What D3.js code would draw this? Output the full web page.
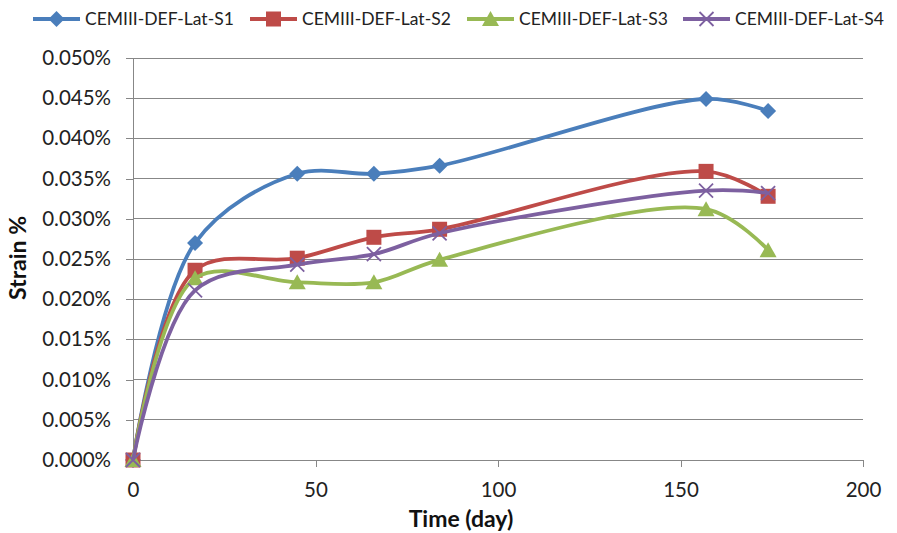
<!DOCTYPE html>
<html><head><meta charset="utf-8">
<script src="https://cdn.jsdelivr.net/npm/d3@7/dist/d3.min.js"></script>
<style>body{margin:0;background:#fff}svg{display:block}</style>
</head><body><svg id="c" width="897" height="533"></svg>
<script>
const days = [0, 17, 45, 66, 84, 157, 174];
const seriesNames = ["CEMIII-DEF-Lat-S1","CEMIII-DEF-Lat-S2","CEMIII-DEF-Lat-S3","CEMIII-DEF-Lat-S4"];
const s1 = [0, 0.0270, 0.0356, 0.0356, 0.0366, 0.0449, 0.0434];
const s2 = [0, 0.0236, 0.0251, 0.0277, 0.0287, 0.0359, 0.0328];
const s3 = [0, 0.0226, 0.0221, 0.0221, 0.0249, 0.0312, 0.0261];
const s4 = [0, 0.0211, 0.0243, 0.0256, 0.0282, 0.0335, 0.0332];
const colors = ["#4A7EBB","#BE4B48","#98B954","#7D60A0"];
const markers = ["diamond","square","triangle","x"];
const xTicks = [0,50,100,150,200];
const yTicks = [0,0.005,0.010,0.015,0.020,0.025,0.030,0.035,0.040,0.045,0.050];

const font = "Lato, 'Open Sans', sans-serif";
const svg = d3.select("#c");
const L=133,R=863,T=58,B=460;
const x = d3.scaleLinear().domain([0,200]).range([L,R]);
const y = d3.scaleLinear().domain([0,0.05]).range([B,T]);

// gridlines
svg.append("g").selectAll("line").data(yTicks.slice(1)).join("line")
  .attr("x1",L).attr("x2",R).attr("y1",d=>y(d)).attr("y2",d=>y(d))
  .attr("stroke","#878787").attr("stroke-width",1).attr("shape-rendering","crispEdges");

// axes
const ya = svg.append("g").attr("transform",`translate(${L},0)`)
  .call(d3.axisLeft(y).tickValues(yTicks).tickFormat(d=>d.toFixed(3)+"%").tickSize(7).tickPadding(15));
const xa = svg.append("g").attr("transform",`translate(0,${B})`)
  .call(d3.axisBottom(x).tickValues(xTicks).tickSize(7).tickPadding(15));
[ya,xa].forEach(a=>{
  a.selectAll("path,line").attr("stroke","#878787").attr("shape-rendering","crispEdges");
  a.selectAll("text").attr("font-family",font).attr("font-size","20.5px").attr("fill","#222");
});
ya.select(".domain").attr("d",`M0,${T}V${B}`);
xa.select(".domain").attr("d",`M${L},0H${R}`);

// axis titles
svg.append("text").attr("transform",`translate(26,258) rotate(-90)`)
  .attr("text-anchor","middle").attr("font-family",font).attr("font-weight","bold")
  .attr("font-size","23px").attr("fill","#111").text("Strain %");
svg.append("text").attr("x",461).attr("y",527).attr("text-anchor","middle")
  .attr("font-family",font).attr("font-weight","bold").attr("font-size","23px").attr("fill","#111").text("Time (day)");

function marker(g, type, color, cx, cy){
  if(type==="diamond"){
    g.append("path").attr("d",`M${cx},${cy-8}L${cx+8},${cy}L${cx},${cy+8}L${cx-8},${cy}Z`).attr("fill",color);
  } else if(type==="square"){
    g.append("rect").attr("x",cx-7.5).attr("y",cy-7.5).attr("width",15).attr("height",15).attr("fill",color);
  } else if(type==="triangle"){
    g.append("path").attr("d",`M${cx},${cy-8}L${cx+8.5},${cy+7}L${cx-8.5},${cy+7}Z`).attr("fill",color);
  } else {
    g.append("path").attr("d",`M${cx-7},${cy-7}L${cx+7},${cy+7}M${cx-7},${cy+7}L${cx+7},${cy-7}`)
      .attr("stroke",color).attr("stroke-width",1.8).attr("fill","none");
  }
}

const data = [s1,s2,s3,s4];
const line = d3.line().x(d=>x(d[0])).y(d=>y(d[1])).curve(d3.curveCatmullRom.alpha(0.5));
data.forEach((s,i)=>{
  const pts = days.map((d,j)=>[d,s[j]]);
  const g = svg.append("g");
  g.append("path").attr("d",line(pts)).attr("fill","none").attr("stroke",colors[i]).attr("stroke-width",3.8).attr("stroke-linejoin","round");
  pts.forEach(p=>marker(g,markers[i],colors[i],x(p[0]),y(p[1])));
});

// legend
const legX = [33,250,467,683];
seriesNames.forEach((n,i)=>{
  const g = svg.append("g");
  g.append("line").attr("x1",legX[i]).attr("x2",legX[i]+47).attr("y1",19).attr("y2",19)
    .attr("stroke",colors[i]).attr("stroke-width",3.8);
  marker(g,markers[i],colors[i],legX[i]+23.5,19);
  g.append("text").attr("x",legX[i]+52).attr("y",25).attr("font-family",font).attr("font-size","17.5px")
    .attr("fill","#222").text(n);
});
</script></body></html>
